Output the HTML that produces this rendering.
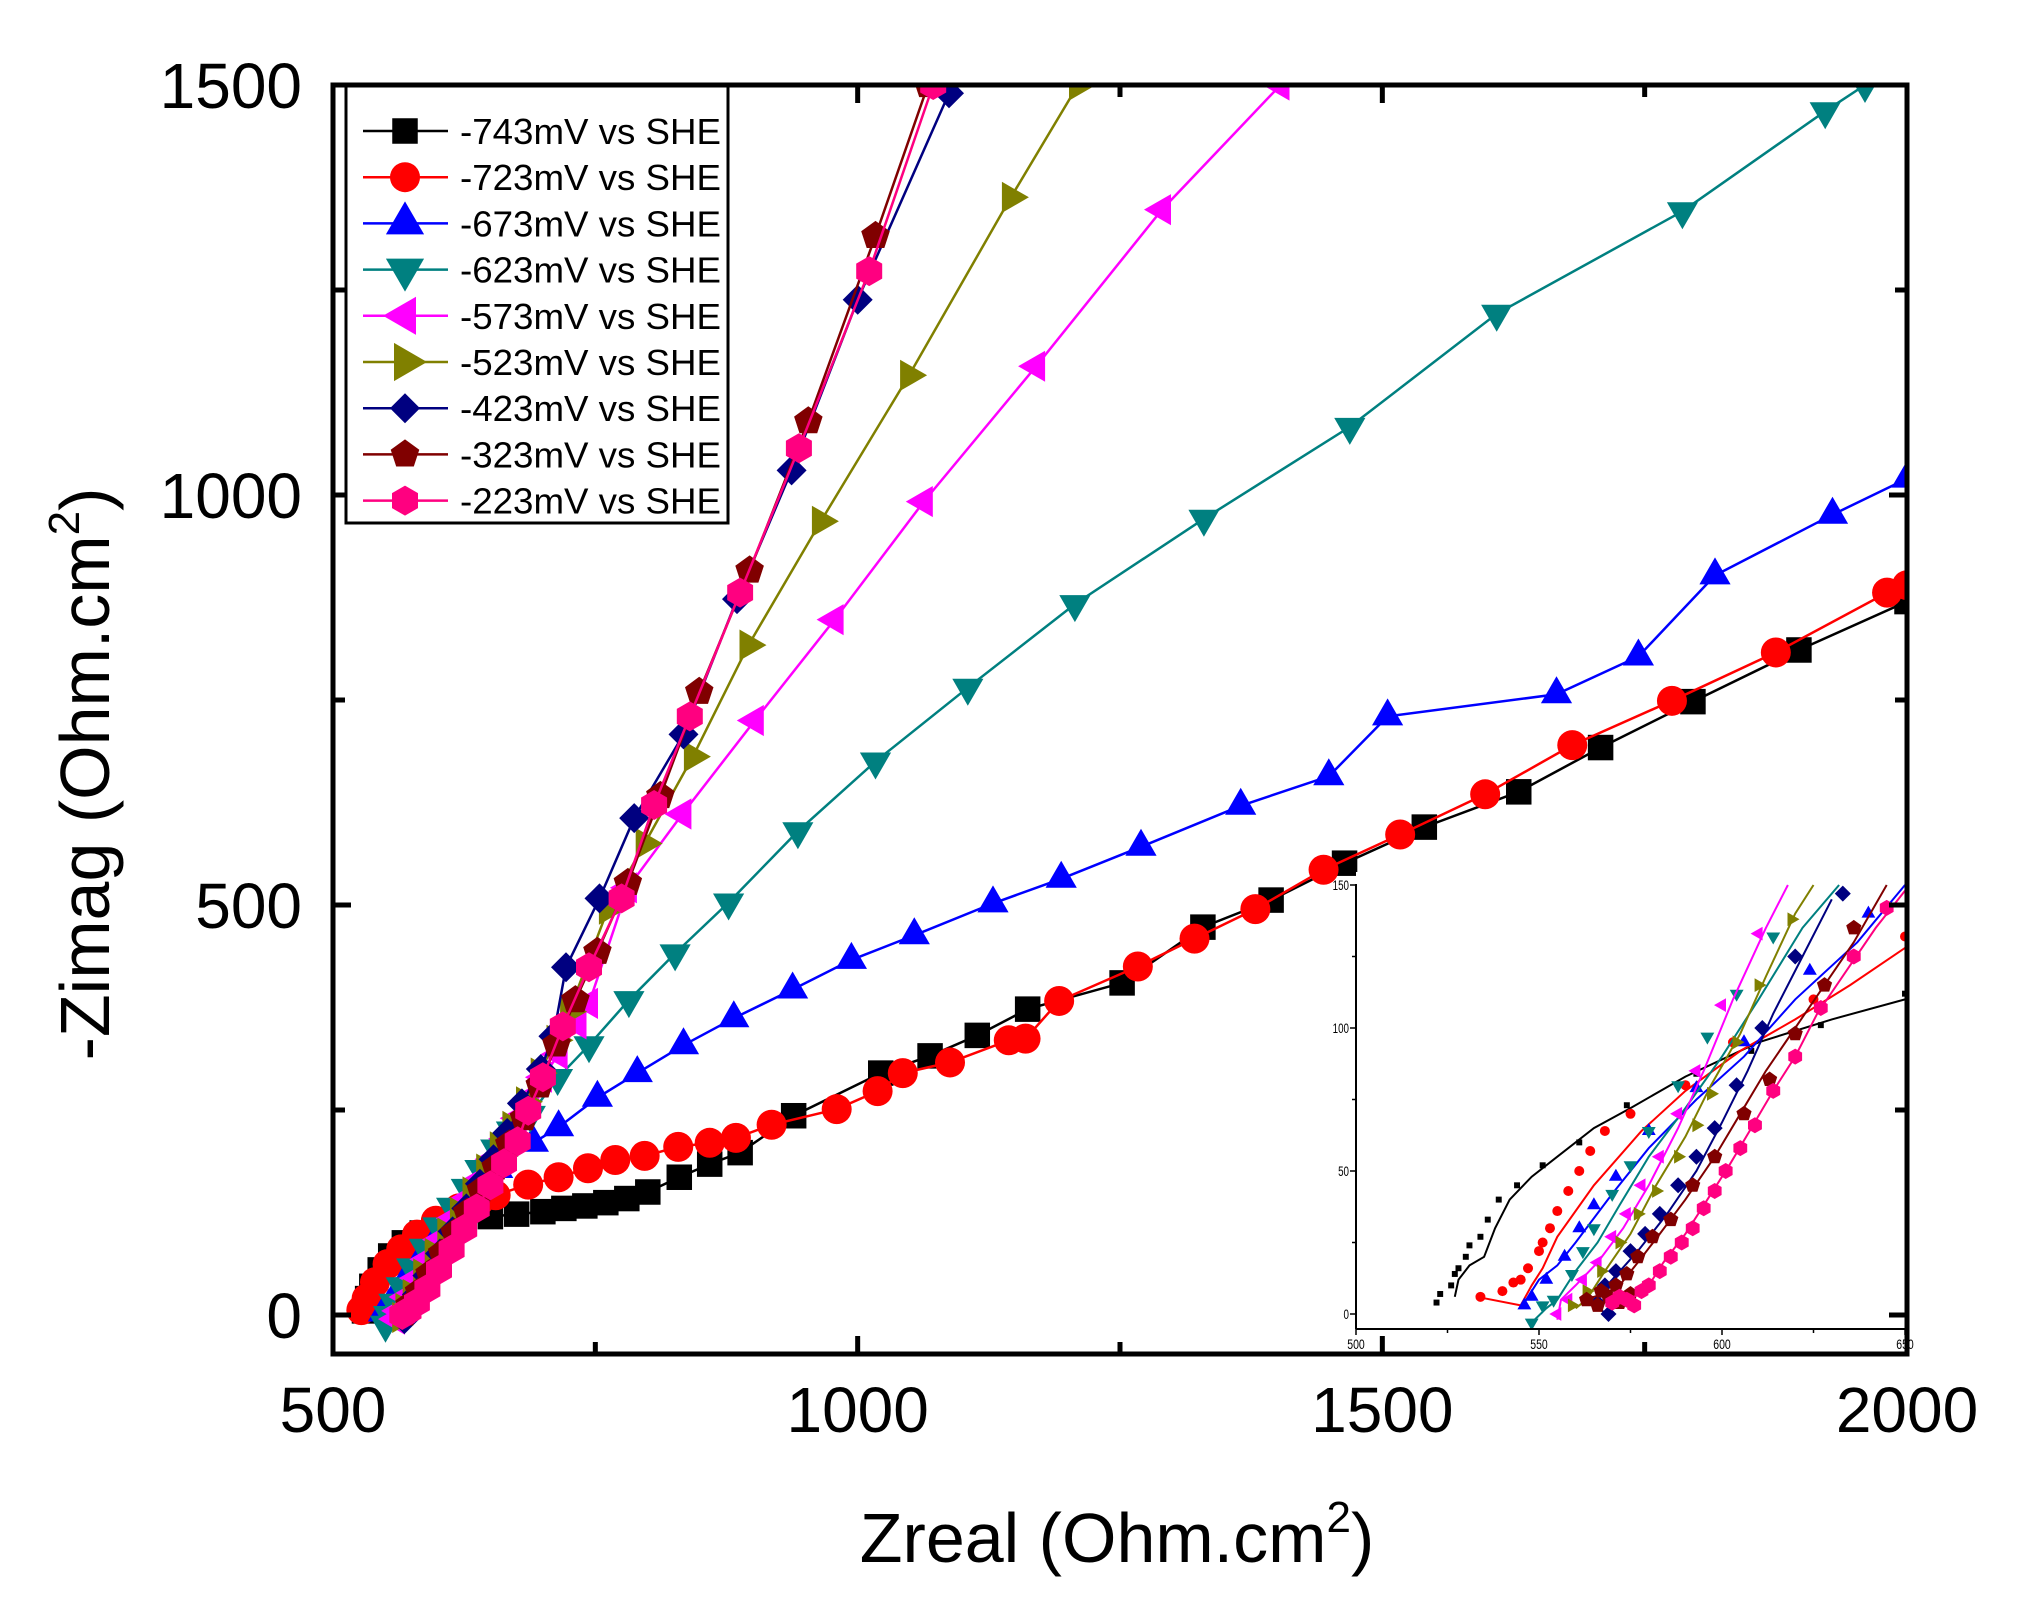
<!DOCTYPE html>
<html><head><meta charset="utf-8"><style>
html,body{margin:0;padding:0;background:#fff}
svg{display:block}
text{font-family:"Liberation Sans",Arial,sans-serif}
</style></head><body>
<svg id="s" width="2034" height="1619" viewBox="0 0 2034 1619" xmlns="http://www.w3.org/2000/svg">
<rect width="2034" height="1619" fill="#fff"/>
<g id="main"></g>
<g id="inset"></g>
<g id="axes"></g>
<g id="legend"></g>
</svg>
<script>
const NS="http://www.w3.org/2000/svg";
function el(parent,tag,attrs,txt){const e=document.createElementNS(NS,tag);for(const k in attrs)e.setAttribute(k,attrs[k]);if(txt!==undefined)e.textContent=txt;parent.appendChild(e);return e;}
const main=document.getElementById('main'),inset=document.getElementById('inset'),axes=document.getElementById('axes'),legend=document.getElementById('legend');
const X0=333,X1=1907,Y0=1315,YT=85;
const mx=x=>X0+(x-500)*(X1-X0)/1500, my=y=>Y0-y*(Y0-YT)/1500;
const IL=1356,IB=1329,IT=884;
const ix=x=>IL+(x-500)*3.66, iy=y=>1314-y*2.86;

function marker(g,type,cx,cy,r,col){
  let pts=[];
  const poly=(n,rot)=>{for(let i=0;i<n;i++){const a=rot+i*2*Math.PI/n;pts.push((cx+r*Math.cos(a)).toFixed(1)+','+(cy+r*Math.sin(a)).toFixed(1));}el(g,'polygon',{points:pts.join(' '),fill:col});};
  switch(type){
    case 'sq': el(g,'rect',{x:cx-r*0.85,y:cy-r*0.85,width:r*1.7,height:r*1.7,fill:col});break;
    case 'ci': el(g,'circle',{cx:cx,cy:cy,r:r,fill:col});break;
    case 'up': poly(3,-Math.PI/2);break;
    case 'dn': poly(3,Math.PI/2);break;
    case 'lt': poly(3,Math.PI);break;
    case 'rt': poly(3,0);break;
    case 'di': poly(4,-Math.PI/2);break;
    case 'pe': poly(5,-Math.PI/2);break;
    case 'hx': poly(6,-Math.PI/2);break;
  }
}
const series=[
 {n:'-743mV vs SHE',c:'#000000',m:'sq',d:[[530,5],[533,20],[537,35],[545,55],[555,72],[568,88],[585,100],[605,110],[625,116],[650,120],[675,123],[700,126],[720,130],[740,133],[760,137],[780,142],[800,150],[830,168],[859,184],[888,198],[939,243],[1022,295],[1069,316],[1114,341],[1162,373],[1252,405],[1329,473],[1394,506],[1464,551],[1540,595],[1630,638],[1708,692],[1796,748],[1897,811],[2000,870]]},
 {n:'-723mV vs SHE',c:'#FF0000',m:'ci',d:[[527,6],[532,20],[540,40],[552,62],[565,80],[580,98],[598,115],[620,130],[640,140],[655,146],[686,159],[715,168],[743,179],[769,189],[797,194],[829,205],[859,210],[884,216],[918,232],[980,251],[1019,273],[1043,295],[1088,308],[1144,335],[1160,337],[1192,383],[1267,425],[1321,459],[1379,495],[1444,543],[1517,586],[1598,635],[1681,695],[1776,749],[1875,808],[1981,881],[2000,890]]},
 {n:'-673mV vs SHE',c:'#0000FF',m:'up',d:[[548,3],[553,10],[560,25],[570,45],[582,65],[595,85],[608,105],[620,125],[632,145],[645,162],[657,178],[691,210],[715,229],[752,265],[790,295],[834,329],[882,362],[938,397],[994,433],[1054,463],[1129,502],[1194,532],[1270,571],[1365,621],[1449,657],[1505,730],[1666,757],[1744,803],[1817,902],[1929,976],[2000,1020]]},
 {n:'-623mV vs SHE',c:'#008080',m:'dn',d:[[550,-12],[553,0],[558,15],[565,35],[575,58],[587,82],[600,108],[613,132],[627,155],[640,178],[655,203],[670,225],[688,244],[714,289],[744,329],[782,384],[826,441],[877,503],[943,590],[1017,675],[1105,765],[1207,867],[1330,971],[1469,1083],[1609,1221],[1786,1346],[1922,1468],[1960,1500]]},
 {n:'-573mV vs SHE',c:'#FF00FF',m:'lt',d:[[560,-5],[563,5],[570,22],[580,45],[590,68],[602,92],[615,118],[628,142],[640,165],[652,190],[665,215],[676,240],[688,265],[700,290],[715,318],[733,355],[744,380],[781,521],[833,611],[902,725],[978,848],[1063,992],[1170,1157],[1290,1348],[1403,1500]]},
 {n:'-523mV vs SHE',c:'#808000',m:'rt',d:[[565,-3],[568,8],[575,25],[585,50],[596,75],[608,100],[620,125],[632,150],[645,178],[658,205],[670,230],[683,260],[697,295],[712,335],[725,370],[762,495],[797,575],[843,681],[896,817],[965,968],[1049,1146],[1146,1363],[1210,1500]]},
 {n:'-423mV vs SHE',c:'#000080',m:'di',d:[[568,-5],[572,8],[580,25],[590,48],[602,75],[614,102],[627,130],[640,160],[653,190],[666,222],[680,258],[698,300],[710,340],[722,424],[754,508],[787,606],[834,708],[885,873],[937,1030],[1000,1238],[1087,1490]]},
 {n:'-323mV vs SHE',c:'#800000',m:'pe',d:[[568,2],[573,12],[582,28],[592,50],[604,75],[616,100],[628,125],[641,152],[655,180],[668,208],[682,240],[697,280],[713,330],[731,384],[752,443],[781,527],[812,633],[849,760],[897,908],[953,1090],[1017,1316],[1067,1500]]},
 {n:'-223mV vs SHE',c:'#FF0080',m:'hx',d:[[566,0],[572,5],[580,15],[590,32],[601,55],[613,80],[625,105],[637,130],[650,158],[663,185],[676,212],[686,249],[700,290],[719,352],[744,424],[775,508],[806,622],[840,730],[888,881],[944,1057],[1011,1273],[1072,1500]]}
];
const defs=el(document.getElementById('s'),'defs',{});
const cp=el(defs,'clipPath',{id:'mc'});el(cp,'rect',{x:X0,y:YT,width:X1-X0,height:1354-YT});
const cp2=el(defs,'clipPath',{id:'ic'});el(cp2,'rect',{x:IL,y:IT-10,width:X1-IL,height:IB-IT+10});
main.setAttribute('clip-path','url(#mc)');
series.forEach(s=>{
  el(main,'polyline',{points:s.d.map(p=>mx(p[0]).toFixed(1)+','+my(p[1]).toFixed(1)).join(' '),fill:'none',stroke:s.c,'stroke-width':2.5});
  s.d.forEach(p=>marker(main,s.m,mx(p[0]),my(p[1]),s.m==='up'||s.m==='dn'||s.m==='lt'||s.m==='rt'?18:15,s.c));
});
el(inset,'rect',{x:IL,y:IT-12,width:X1-IL,height:IB-IT+12,fill:'#fff'});
const ig=el(inset,'g',{'clip-path':'url(#ic)'});
const ins=[
 {c:'#000000',m:'sq',line:[[527,6],[528,12],[531,17],[535,20],[538,30],[542,40],[548,48],[555,55],[565,65],[575,72],[590,83],[610,95],[630,103],[650,110]],pts:[[522,4],[523,7],[526,10],[527,14],[528,16],[530,20],[531,24],[534,27],[536,33],[539,40],[544,45],[551,52],[561,60],[574,73],[593,84],[608,92],[627,101],[650,112]]},
 {c:'#FF0000',m:'ci',line:[[533,6],[545,3],[548,10],[551,16],[555,27],[565,45],[578,64],[590,78],[605,92],[620,103],[635,115],[650,128]],pts:[[534,6],[540,8],[543,11],[545,12],[547,16],[550,22],[551,25],[553,30],[555,36],[558,43],[561,50],[564,57],[568,64],[575,70],[590,80],[603,95],[625,110],[650,132]]},
 {c:'#0000FF',m:'up',line:[[546,4],[550,12],[555,17],[560,25],[570,42],[580,58],[593,75],[606,90],[620,110],[637,130],[650,150]],pts:[[546,3],[548,6],[552,12],[557,20],[561,30],[565,38],[571,48],[580,64],[593,79],[606,95],[624,120],[640,140]]},
 {c:'#008080',m:'dn',line:[[548,-3],[552,2],[555,5],[560,15],[566,25],[572,38],[580,55],[590,72],[600,90],[610,110],[622,135],[632,150]],pts:[[548,-3],[551,3],[554,5],[559,14],[562,22],[565,30],[570,42],[575,52],[580,64],[588,80],[596,97],[604,112],[614,132]]},
 {c:'#FF00FF',m:'lt',line:[[555,-2],[556,5],[560,10],[566,18],[573,30],[580,45],[588,65],[595,85],[603,110],[612,135],[618,150]],pts:[[555,0],[558,5],[562,12],[566,18],[570,27],[574,35],[578,45],[583,55],[588,70],[593,85],[600,108],[610,133]]},
 {c:'#808000',m:'rt',line:[[560,2],[563,5],[568,15],[575,28],[582,45],[590,62],[597,80],[605,98],[612,118],[620,140],[625,150]],pts:[[559,3],[563,8],[567,15],[572,25],[577,35],[582,43],[588,55],[593,66],[597,77],[604,95],[610,115],[619,138]]},
 {c:'#000080',m:'di',line:[[568,0],[565,5],[570,12],[577,22],[585,35],[593,50],[600,67],[607,85],[614,105],[622,125],[630,145]],pts:[[569,0],[566,4],[568,10],[571,15],[575,22],[579,28],[583,35],[588,45],[593,55],[598,65],[604,80],[611,100],[620,125],[633,147]]},
 {c:'#800000',m:'pe',line:[[562,5],[568,7],[572,10],[577,18],[583,28],[590,40],[598,55],[605,70],[612,85],[620,100],[628,115],[636,130],[645,150]],pts:[[563,5],[567,8],[571,10],[574,14],[577,20],[581,27],[586,33],[592,45],[598,55],[606,70],[613,82],[620,98],[628,115],[636,135],[566,3],[569,6],[572,4],[575,7]]},
 {c:'#FF0080',m:'hx',line:[[570,4],[576,6],[580,10],[584,18],[590,28],[596,40],[602,52],[608,65],[614,78],[620,90],[626,105],[634,120],[642,135],[650,148]],pts:[[570,4],[572,6],[574,5],[576,3],[578,8],[580,10],[583,15],[586,20],[589,25],[592,30],[595,37],[598,43],[601,50],[605,58],[609,66],[614,78],[620,90],[627,107],[636,125],[645,142]]}
];
ins.forEach(s=>{
  el(ig,'polyline',{points:s.line.map(p=>ix(p[0]).toFixed(1)+','+iy(p[1]).toFixed(1)).join(' '),fill:'none',stroke:s.c,'stroke-width':2});
  s.pts.forEach(p=>marker(ig,s.m,ix(p[0]),iy(p[1]),s.m==='sq'?3.5:s.m==='ci'?5:8,s.c));
});
el(inset,'line',{x1:IL,y1:IT,x2:IL,y2:IB,stroke:'#000','stroke-width':2});
el(inset,'line',{x1:IL,y1:IB,x2:X1,y2:IB,stroke:'#000','stroke-width':2});
for(let v=0;v<=150;v+=25){const y=iy(v);el(inset,'line',{x1:IL-(v%50?4:6),y1:y,x2:IL,y2:y,stroke:'#000','stroke-width':1.5});
 if(v%50===0)el(inset,'text',{x:IL-7,y:y+5,'font-size':14,'text-anchor':'end',transform:`translate(${IL-7},${y+5}) scale(0.7,1) translate(${-(IL-7)},${-(y+5)})`},String(v));}
for(let v=500;v<=650;v+=25){const x=ix(v);el(inset,'line',{x1:x,y1:IB,x2:x,y2:IB+(v%50?4:6),stroke:'#000','stroke-width':1.5});
 if(v%50===0)el(inset,'text',{x:x,y:IB+20,'font-size':14,'text-anchor':'middle',transform:`translate(${x},${IB+20}) scale(0.75,1) translate(${-x},${-(IB+20)})`},String(v));}
el(axes,'rect',{x:X0,y:YT,width:X1-X0,height:1354-YT,fill:'none',stroke:'#000','stroke-width':5});
for(let v=750;v<2000;v+=250){const x=mx(v),L=(v%500)?12:18;
 el(axes,'line',{x1:x,y1:1354,x2:x,y2:1354-L,stroke:'#000','stroke-width':5});
 el(axes,'line',{x1:x,y1:YT,x2:x,y2:YT+L,stroke:'#000','stroke-width':5});}
for(let v=0;v<1500;v+=250){const y=my(v),L=(v%500)?12:18;
 el(axes,'line',{x1:X0,y1:y,x2:X0+L,y2:y,stroke:'#000','stroke-width':5});
 el(axes,'line',{x1:X1,y1:y,x2:X1-L,y2:y,stroke:'#000','stroke-width':5});}
[0,500,1000,1500].forEach(v=>el(axes,'text',{x:302,y:my(v)+23,'font-size':64,'text-anchor':'end'},String(v)));
[500,1000,1500,2000].forEach(v=>el(axes,'text',{x:mx(v),y:1432,'font-size':64,'text-anchor':'middle'},String(v)));
const xt=el(axes,'text',{x:1117,y:1562,'font-size':70,'text-anchor':'middle'});
xt.innerHTML='Zreal (Ohm.cm<tspan dy="-30" font-size="44">2</tspan><tspan dy="30">)</tspan>';
const yt=el(axes,'text',{x:0,y:0,'font-size':70,'text-anchor':'middle',transform:'translate(109,774) rotate(-90)'});
yt.innerHTML='-Zimag (Ohm.cm<tspan dy="-30" font-size="44">2</tspan><tspan dy="30">)</tspan>';
el(legend,'rect',{x:346,y:86,width:382,height:437,fill:'#fff',stroke:'#000','stroke-width':3});
series.forEach((s,i)=>{const y=131+i*46.2;
 el(legend,'line',{x1:363,y1:y,x2:448,y2:y,stroke:s.c,'stroke-width':2.5});
 marker(legend,s.m,405,y,s.m==='up'||s.m==='dn'||s.m==='lt'||s.m==='rt'?22:15,s.c);
 el(legend,'text',{x:460,y:y+13,'font-size':36,textLength:261,lengthAdjust:'spacingAndGlyphs'},s.n);
});
</script>
</body></html>
